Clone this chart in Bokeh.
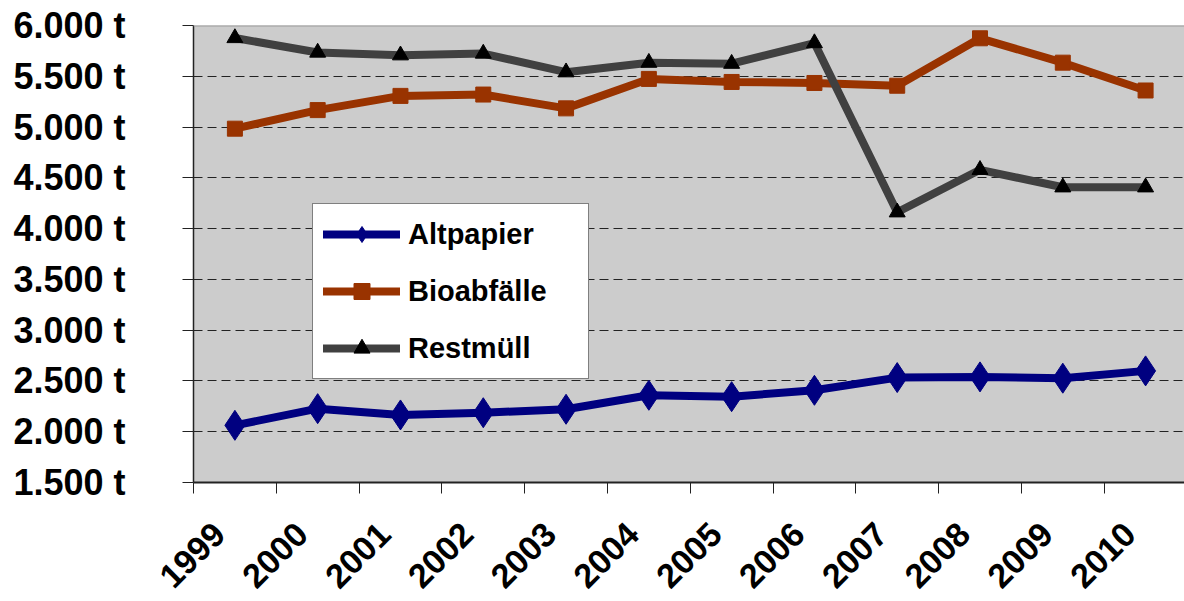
import math
from bokeh.plotting import figure
from bokeh.models import Range1d, FixedTicker, Span, Legend, LegendItem
from bokeh.embed import file_html
from bokeh.resources import INLINE

years = ["1999", "2000", "2001", "2002", "2003", "2004",
         "2005", "2006", "2007", "2008", "2009", "2010"]
altpapier = [2063, 2227, 2165, 2187, 2221, 2359, 2345, 2408, 2533, 2540, 2527, 2599]
bioabfaelle = [4984, 5167, 5307, 5320, 5184, 5474, 5444, 5434, 5407, 5874, 5634, 5360]
restmuell = [5877, 5734, 5707, 5724, 5540, 5634, 5624, 5827, 4161, 4579, 4407, 4407]
series_names = ["Altpapier", "Bioabfälle", "Restmüll"]
y_ticks = [1500, 2000, 2500, 3000, 3500, 4000, 4500, 5000, 5500, 6000]
y_tick_labels = ["1.500 t", "2.000 t", "2.500 t", "3.000 t", "3.500 t",
                 "4.000 t", "4.500 t", "5.000 t", "5.500 t", "6.000 t"]

FONT = "Liberation Sans"

x_centers = [i + 0.5 for i in range(len(years))]
x_bounds = [float(i) for i in range(len(years) + 1)]
# rotated labels sit slightly left of the category centre in the original
label_pos = [c - 0.19 for c in x_centers]

p = figure(width=1184, height=601, output_backend="svg", toolbar_location=None,
           x_range=Range1d(0, 11.97), y_range=Range1d(1500, 6000),
           min_border_left=193, min_border_right=0, min_border_top=25,
           min_border_bottom=119)
p.background_fill_color = "#CCCCCC"
p.border_fill_color = "white"
p.outline_line_color = None

# y axis
p.yaxis.ticker = FixedTicker(ticks=y_ticks, minor_ticks=[])
p.yaxis.major_label_overrides = {t: l for t, l in zip(y_ticks, y_tick_labels)}
p.yaxis.major_label_text_font = FONT
p.yaxis.major_label_text_font_style = "bold"
p.yaxis.major_label_text_font_size = "36px"
p.yaxis.major_label_text_color = "black"
p.yaxis.major_tick_out = 11
p.yaxis.major_tick_in = 0
p.yaxis.major_tick_line_color = "#222222"
p.yaxis.axis_line_color = "#222222"
p.yaxis.axis_line_width = 1.5
p.yaxis.major_label_standoff = 57

# x axis
p.xaxis.ticker = FixedTicker(ticks=label_pos, minor_ticks=x_bounds)
p.xaxis.major_label_overrides = {c: y for c, y in zip(label_pos, years)}
p.xaxis.major_label_orientation = math.pi / 4
p.xaxis.major_label_text_font = FONT
p.xaxis.major_label_text_font_style = "bold"
p.xaxis.major_label_text_font_size = "34px"
p.xaxis.major_label_text_color = "black"
p.xaxis.major_tick_out = 0
p.xaxis.major_tick_in = 0
p.xaxis.minor_tick_out = 11
p.xaxis.minor_tick_in = 0
p.xaxis.minor_tick_line_color = "#222222"
p.xaxis.axis_line_color = "#222222"
p.xaxis.axis_line_width = 2
p.xaxis.major_label_standoff = 35

p.xgrid.visible = False
p.ygrid.grid_line_color = "#222222"
p.ygrid.grid_line_dash = "9 5"
p.ygrid.grid_line_width = 1

p.add_layout(Span(location=6000, dimension="width", line_color="#999999", line_width=2))

l1 = p.line(x_centers, altpapier, line_width=8, line_color="#000080", line_join="round", line_cap="round")
s1 = p.scatter(x_centers, altpapier, marker="diamond", size=30, color="#000080")
l2 = p.line(x_centers, bioabfaelle, line_width=8, line_color="#993300", line_join="round", line_cap="round")
s2 = p.scatter(x_centers, bioabfaelle, marker="square", size=15, color="#993300")
l3 = p.line(x_centers, restmuell, line_width=8, line_color="#404040", line_join="round", line_cap="round")
s3 = p.scatter(x_centers, restmuell, marker="triangle", size=16, color="black")

legend = Legend(items=[
    LegendItem(label=series_names[0], renderers=[l1, s1]),
    LegendItem(label=series_names[1], renderers=[l2, s2]),
    LegendItem(label=series_names[2], renderers=[l3, s3]),
], location=(119, 103))
legend.label_text_font = FONT
legend.label_text_font_style = "bold"
legend.label_text_font_size = "29px"
legend.label_text_color = "black"
legend.label_height = 40
legend.glyph_height = 40
legend.glyph_width = 77
legend.label_width = 170
legend.label_standoff = 8
legend.spacing = 17
legend.padding = 10
legend.margin = 0
legend.border_line_color = "black"
legend.border_line_width = 1
legend.background_fill_color = "white"
legend.background_fill_alpha = 1
p.add_layout(legend)

open("out.html", "w").write(file_html(p, INLINE))
